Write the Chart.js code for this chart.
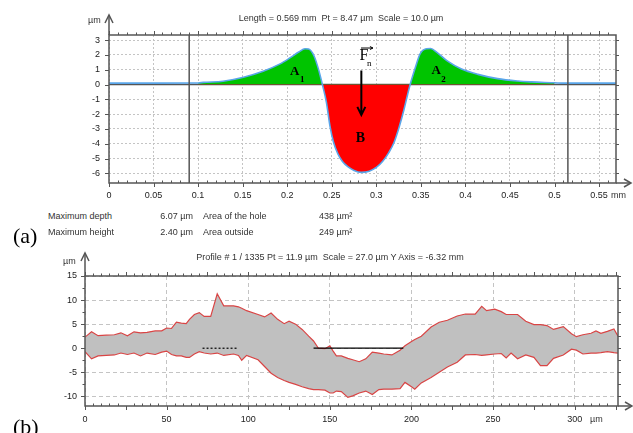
<!DOCTYPE html>
<html>
<head>
<meta charset="utf-8">
<script src="https://cdn.jsdelivr.net/npm/chart.js@4"></script>
<style>
  body { margin: 0; background: #fff; }
  #page { position: relative; width: 633px; height: 433px; overflow: hidden; font-family: "Liberation Sans", Arial, sans-serif; color: #333; }
  .t { position: absolute; font-size: 9px; line-height: 10px; white-space: nowrap; }
  .c { transform: translateX(-50%); }
  .big { position: absolute; font-family: "Liberation Serif", "Times New Roman", serif; font-size: 22px; line-height: 22px; color: #000; }
  #wa { position: absolute; left: 0; top: 0; width: 633px; height: 205px; }
  #wb { position: absolute; left: 0; top: 236px; width: 633px; height: 197px; }
</style>
</head>
<body>
<div id="page">
  <div id="wa"><canvas id="chartA"></canvas></div>
  <div id="wb"><canvas id="chartB"></canvas></div>

  <div class="t c" style="left:341px; top:13px;">Length = 0.569 mm&nbsp; Pt = 8.47 µm&nbsp; Scale = 10.0 µm</div>
  <div class="t" style="left:88px; top:15px;">µm</div>
  <div class="t" style="left:611px; top:190px;">mm</div>

  <div class="t" style="left:48px; top:211px;">Maximum depth</div>
  <div class="t" style="right:440px; top:211px;">6.07 µm</div>
  <div class="t" style="left:203px; top:211px;">Area of the hole</div>
  <div class="t" style="left:319px; top:211px;">438 µm²</div>
  <div class="t" style="left:48px; top:227px;">Maximum height</div>
  <div class="t" style="right:440px; top:227px;">2.40 µm</div>
  <div class="t" style="left:203px; top:227px;">Area outside</div>
  <div class="t" style="left:319px; top:227px;">249 µm²</div>
  <div class="big" style="left:13px; top:225px;">(a)</div>

  <div class="t c" style="left:330px; top:252px;">Profile # 1 / 1335 Pt = 11.9 µm&nbsp; Scale = 27.0 µm Y Axis = -6.32 mm</div>
  <div class="t" style="left:63px; top:256px;">µm</div>
  <div class="t" style="left:590px; top:414px;">µm</div>
  <div class="big" style="left:13px; top:416px;">(b)</div>
</div>

<script>
// (a) single profile, x in mm, y in µm
var profileX = [0, 0.05, 0.1, 0.106, 0.128, 0.151, 0.173, 0.192, 0.203, 0.213, 0.22, 0.224, 0.23, 0.235, 0.2395,
  0.244, 0.248, 0.252, 0.257, 0.262, 0.268, 0.275, 0.283, 0.292, 0.3, 0.307, 0.314, 0.32, 0.326, 0.331, 0.335, 0.338,
  0.344, 0.349, 0.356, 0.361, 0.368, 0.38, 0.395, 0.414, 0.436, 0.459, 0.474, 0.489, 0.5, 0.511, 0.569];
var profileY = [0.1, 0.1, 0.11, 0.15, 0.23, 0.5, 0.9, 1.4, 1.8, 2.2, 2.42, 2.4, 1.95, 1.06, 0,
  -1.2, -2.8, -3.9, -4.7, -5.2, -5.55, -5.8, -5.93, -5.85, -5.6, -5.2, -4.6, -3.9, -2.8, -1.7, -0.7, 0,
  1.18, 2.06, 2.42, 2.44, 2.18, 1.58, 1.07, 0.69, 0.4, 0.24, 0.18, 0.14, 0.12, 0.1, 0.1];
var areaFrom = 0.1, areaTo = 0.5;
var cursorX = [0.09, 0.515];
var aXTicks = [0, 0.05, 0.1, 0.15, 0.2, 0.25, 0.3, 0.35, 0.4, 0.45, 0.5, 0.55];
var aYTicks = [-6, -5, -4, -3, -2, -1, 0, 1, 2, 3];

// (b) envelope of all profiles, x in µm, y in µm
var bandX = [0, 4, 8, 13, 18, 22, 26, 30, 34, 38, 43, 47, 50, 53, 56, 59, 62, 64, 67, 70, 73, 77, 81, 85, 91, 94, 96, 99,
  106, 110, 114, 118, 122, 125, 129, 133, 137, 140, 143, 147, 150, 152, 154, 157, 161, 164, 168, 172, 176, 180, 183,
  188, 193, 196, 200, 202, 206, 212, 217, 222, 228, 233, 239, 243, 246, 251, 255, 258, 261, 265, 270, 275, 279, 283,
  287, 293, 298, 301, 305, 310, 313, 316, 320, 324, 326.5];
var bandUpper = [2.3, 3.4, 2.6, 2.7, 2.8, 3.2, 2.6, 3.4, 3.2, 3.3, 3.6, 3.6, 4.2, 4.1, 5.4, 5.2, 5.1, 6.0, 7.0, 7.4, 6.6, 6.6, 11.3, 8.8, 8.8, 8.6, 8.3, 7.8,
  7.0, 6.5, 7.3, 6.0, 5.1, 5.6, 5.0, 3.9, 2.5, 1.5, 0.0, -0.1, 0.5, -0.6, -1.6, -1.6, -2.1, -2.4, -2.8, -2.2, -0.8, -1.0, -1.2,
  -1.4, -0.4, 0.5, 1.4, 1.8, 2.5, 4.4, 5.4, 5.8, 6.7, 7.1, 7.1, 8.7, 7.8, 8.1, 7.6, 7.0, 7.0, 7.0, 5.6, 4.9, 4.9, 4.7,
  3.9, 4.5, 3.0, 2.4, 2.8, 3.1, 3.6, 3.1, 3.5, 4.0, 2.5];
var bandLower = [-0.7, -2.2, -1.6, -1.5, -1.4, -1.0, -1.3, -1.0, -1.6, -1.0, -1.3, -0.8, -0.6, -1.3, -1.6, -1.6, -1.9, -1.9, -1.2, -0.7, -1.0, -1.2, -1.0, -1.5, -1.2, -1.5, -2.5, -1.5,
  -2.4, -3.8, -5.2, -6.1, -6.7, -7.1, -7.5, -8.0, -8.4, -8.6, -8.6, -8.7, -9.3, -9.3, -8.9, -9.0, -10.2, -9.9, -9.3, -8.9, -9.6, -8.6, -8.5,
  -8.5, -8.4, -7.1, -8.0, -8.5, -7.2, -6.1, -5.0, -3.9, -2.9, -1.4, -1.3, -1.5, -1.4, -1.2, -1.1, -2.0, -1.0, -2.2, -1.4, -1.9, -3.6, -3.6,
  -2.1, -1.4, -0.2, -0.4, -1.2, -1.0, -1.0, -0.9, -0.7, -0.9, -1.0];
var zeroSolidX = [140, 195];
var zeroDottedX = [72, 93];
var bXTicks = [0, 50, 100, 150, 200, 250, 300];
var bYTicks = [-10, -5, 0, 5, 10, 15];

var tickFont = { family: "'Liberation Sans', Arial, sans-serif", size: 9 };
var serif = "'Liberation Serif', 'Times New Roman', serif";

function pts(xs, ys) {
    return xs.map(function (x, i) { return { x: x, y: ys[i] }; });
}

// frame, minor ticks, axis arrows, cursors
var axisFrame = {
    id: 'axisFrame',
    beforeDatasetsDraw: function (chart, args, o) {
        if (!o.zeroLine) return;
        var ctx = chart.ctx, a = chart.chartArea;
        var y0 = chart.scales.y.getPixelForValue(0);
        ctx.save();
        ctx.strokeStyle = '#555';
        ctx.lineWidth = 1.5;
        ctx.beginPath();
        ctx.moveTo(a.left, y0);
        ctx.lineTo(a.right, y0);
        ctx.stroke();
        ctx.restore();
    },
    afterDatasetsDraw: function (chart, args, o) {
        var ctx = chart.ctx, a = chart.chartArea;
        var xs = chart.scales.x, ys = chart.scales.y;
        function line(x1, y1, x2, y2) {
            ctx.beginPath();
            ctx.moveTo(x1, y1);
            ctx.lineTo(x2, y2);
            ctx.stroke();
        }
        function each(min, max, step, major, fn) {
            for (var i = Math.ceil(min / step - 1e-9); i * step <= max + 1e-9; i++) {
                var v = i * step;
                var r = v / major;
                fn(v, Math.abs(r - Math.round(r)) < 1e-6);
            }
        }
        ctx.save();
        ctx.strokeStyle = '#555';
        ctx.lineWidth = 1.5;
        (o.cursors || []).forEach(function (v) {
            var p = xs.getPixelForValue(v);
            line(p, a.top, p, a.bottom);
        });
        ctx.strokeRect(a.left, a.top, a.width, a.height);

        ctx.lineWidth = 1;
        each(xs.min, xs.max, o.xMinor, o.xMajor, function (v, major) {
            var p = Math.round(xs.getPixelForValue(v)) + 0.5;
            line(p, a.top, p, a.top - (major ? 4 : 2.5));
            line(p, a.bottom, p, major ? a.bottom + 4 : a.bottom - 2.5);
        });
        each(ys.min, ys.max, o.yMinor, o.yMajor, function (v, major) {
            var p = Math.round(ys.getPixelForValue(v)) + 0.5;
            line(a.left, p, a.left - (major ? 4 : 2.5), p);
            line(a.right, p, a.right + 3, p);
        });

        ctx.lineWidth = 1.5;
        var ty = a.top - o.arrowUp;
        line(a.left, a.top, a.left, ty);
        ctx.beginPath();
        ctx.moveTo(a.left - 4, ty + 8);
        ctx.lineTo(a.left, ty);
        ctx.lineTo(a.left + 4, ty + 8);
        ctx.stroke();
        var tx = a.right + o.arrowRight;
        line(a.right, a.bottom, tx, a.bottom);
        ctx.beginPath();
        ctx.moveTo(tx - 7, a.bottom - 4);
        ctx.lineTo(tx, a.bottom);
        ctx.lineTo(tx - 7, a.bottom + 4);
        ctx.stroke();
        ctx.restore();
    }
};

// A1, A2, B and the Fn arrow on the profile
var profileMarks = {
    id: 'profileMarks',
    afterDatasetsDraw: function (chart) {
        var ctx = chart.ctx, xs = chart.scales.x, ys = chart.scales.y;
        function put(text, font, x, y) {
            ctx.font = font;
            ctx.fillText(text, xs.getPixelForValue(x), ys.getPixelForValue(y));
        }
        ctx.save();
        ctx.fillStyle = '#000';
        ctx.strokeStyle = '#000';
        ctx.textAlign = 'center';
        ctx.textBaseline = 'middle';
        put('A', 'bold 13px ' + serif, 0.2083, 0.89);
        put('1', 'bold 9px ' + serif, 0.2168, 0.35);
        put('A', 'bold 13px ' + serif, 0.3671, 0.92);
        put('2', 'bold 9px ' + serif, 0.3755, 0.35);
        put('B', 'bold 14px ' + serif, 0.2821, -3.63);
        put('F', '16px ' + serif, 0.286, 1.93);
        put('n', '9px ' + serif, 0.2922, 1.42);

        // vector bar over F
        var x1 = xs.getPixelForValue(0.2828), x2 = xs.getPixelForValue(0.2962), yb = ys.getPixelForValue(2.47);
        ctx.lineWidth = 1;
        ctx.beginPath();
        ctx.moveTo(x1, yb);
        ctx.lineTo(x2, yb);
        ctx.moveTo(x2 - 3, yb - 1.5);
        ctx.lineTo(x2, yb);
        ctx.lineTo(x2 - 3, yb + 1.5);
        ctx.stroke();

        // force arrow
        var ax = xs.getPixelForValue(0.2832), ay1 = ys.getPixelForValue(0.95), ay2 = ys.getPixelForValue(-2.05);
        ctx.lineWidth = 2;
        ctx.beginPath();
        ctx.moveTo(ax, ay1);
        ctx.lineTo(ax, ay2);
        ctx.moveTo(ax - 4, ay2 - 8);
        ctx.lineTo(ax, ay2);
        ctx.lineTo(ax + 4, ay2 - 8);
        ctx.stroke();
        ctx.restore();
    }
};

document.addEventListener("DOMContentLoaded", function () {
    var profile = pts(profileX, profileY);
    var area = profile.filter(function (p) { return p.x >= areaFrom && p.x <= areaTo; });

    new Chart("chartA", {
        type: "line",
        data: {
            datasets: [
                {
                    label: "profile",
                    data: profile,
                    borderColor: "#5aa6ea",
                    borderWidth: 1.6,
                    pointRadius: 0,
                    cubicInterpolationMode: "monotone",
                    fill: false
                },
                {
                    label: "areas",
                    data: area,
                    borderWidth: 0,
                    pointRadius: 0,
                    cubicInterpolationMode: "monotone",
                    fill: { target: "origin", above: "#00c400", below: "#ff0000" }
                }
            ]
        },
        options: {
            responsive: true,
            maintainAspectRatio: false,
            animation: false,
            events: [],
            layout: { padding: { left: 0, top: 35, right: 17, bottom: 0 } },
            scales: {
                x: {
                    type: "linear",
                    min: 0,
                    max: 0.569,
                    afterBuildTicks: function (s) { s.ticks = aXTicks.map(function (v) { return { value: v }; }); },
                    afterFit: function (s) { s.height = 22; },
                    ticks: {
                        autoSkip: false, maxRotation: 0, padding: 7, font: tickFont, color: "#222",
                        callback: function (v) { return String(+v.toFixed(2)); }
                    },
                    grid: { color: "#c4c4c4", lineWidth: 1, drawTicks: false },
                    border: { display: false, dash: [2, 2] }
                },
                y: {
                    min: -6.65,
                    max: 3.35,
                    afterBuildTicks: function (s) { s.ticks = aYTicks.map(function (v) { return { value: v }; }); },
                    afterFit: function (s) { s.width = 109; },
                    ticks: { autoSkip: false, padding: 9, font: tickFont, color: "#222" },
                    grid: { color: "#c4c4c4", lineWidth: 1, drawTicks: false },
                    border: { display: false, dash: [2, 2] }
                }
            },
            plugins: {
                legend: { display: false },
                tooltip: { enabled: false },
                axisFrame: {
                    zeroLine: true, cursors: cursorX,
                    xMinor: 0.01, xMajor: 0.05, yMinor: 1, yMajor: 1,
                    arrowUp: 20, arrowRight: 15
                }
            }
        },
        plugins: [axisFrame, profileMarks]
    });

    new Chart("chartB", {
        type: "line",
        data: {
            datasets: [
                {
                    label: "zero",
                    data: zeroSolidX.map(function (x) { return { x: x, y: 0 }; }),
                    borderColor: "#000",
                    borderWidth: 1.2,
                    pointRadius: 0,
                    order: 0
                },
                {
                    label: "zero dotted",
                    data: zeroDottedX.map(function (x) { return { x: x, y: 0 }; }),
                    borderColor: "#000",
                    borderWidth: 1.2,
                    borderDash: [2, 2],
                    pointRadius: 0,
                    order: 0
                },
                {
                    label: "max",
                    data: pts(bandX, bandUpper),
                    borderColor: "#d94545",
                    borderWidth: 1.2,
                    pointRadius: 0,
                    fill: "+1",
                    backgroundColor: "#c0c0c0",
                    order: 2
                },
                {
                    label: "min",
                    data: pts(bandX, bandLower),
                    borderColor: "#d94545",
                    borderWidth: 1.2,
                    pointRadius: 0,
                    fill: false,
                    order: 1
                }
            ]
        },
        options: {
            responsive: true,
            maintainAspectRatio: false,
            animation: false,
            events: [],
            layout: { padding: { left: 0, top: 40, right: 15, bottom: 0 } },
            scales: {
                x: {
                    type: "linear",
                    min: 0,
                    max: 326.5,
                    afterBuildTicks: function (s) { s.ticks = bXTicks.map(function (v) { return { value: v }; }); },
                    afterFit: function (s) { s.height = 27; },
                    ticks: { autoSkip: false, maxRotation: 0, padding: 8, font: tickFont, color: "#222" },
                    grid: { color: "#c4c4c4", lineWidth: 1, drawTicks: false },
                    border: { display: false, dash: [4, 3] }
                },
                y: {
                    min: -12,
                    max: 15,
                    afterBuildTicks: function (s) { s.ticks = bYTicks.map(function (v) { return { value: v }; }); },
                    afterFit: function (s) { s.width = 85; },
                    ticks: { autoSkip: false, padding: 8, font: tickFont, color: "#222" },
                    grid: { color: "#c4c4c4", lineWidth: 1, drawTicks: false },
                    border: { display: false, dash: [4, 3] }
                }
            },
            plugins: {
                legend: { display: false },
                tooltip: { enabled: false },
                axisFrame: {
                    zeroLine: false,
                    xMinor: 5, xMajor: 25, yMinor: 2.5, yMajor: 5,
                    arrowUp: 23, arrowRight: 14
                }
            }
        },
        plugins: [axisFrame]
    });
});
</script>
</body>
</html>
